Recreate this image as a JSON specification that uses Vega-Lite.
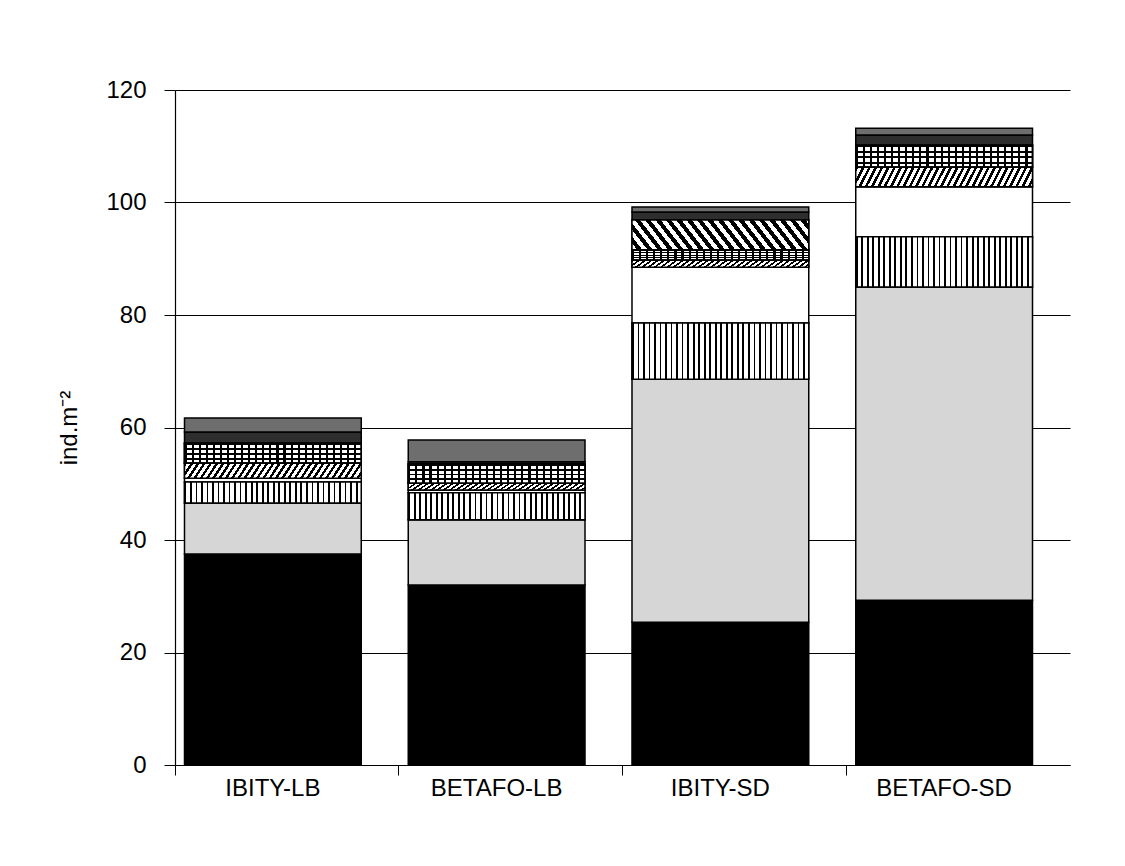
{
  "$schema": "https://vega.github.io/schema/vega-lite/v6.json",
  "width": 895,
  "height": 675,
  "autosize": "none",
  "padding": {"left": 175, "top": 90, "right": 55, "bottom": 101},
  "background": "white",
  "config": {"view": {"stroke": null}, "font": "Liberation Sans"},
  "data": {"values": [
    {"site": "IBITY-LB", "seg": 1, "v": 37.5},
    {"site": "IBITY-LB", "seg": 2, "v": 9.1},
    {"site": "IBITY-LB", "seg": 3, "v": 3.7},
    {"site": "IBITY-LB", "seg": 4, "v": 0.7},
    {"site": "IBITY-LB", "seg": 5, "v": 2.7},
    {"site": "IBITY-LB", "seg": 6, "v": 3.5},
    {"site": "IBITY-LB", "seg": 8, "v": 2.0},
    {"site": "IBITY-LB", "seg": 9, "v": 2.5},
    {"site": "BETAFO-LB", "seg": 1, "v": 32.0},
    {"site": "BETAFO-LB", "seg": 2, "v": 11.6},
    {"site": "BETAFO-LB", "seg": 3, "v": 4.8},
    {"site": "BETAFO-LB", "seg": 4, "v": 0.5},
    {"site": "BETAFO-LB", "seg": 5, "v": 1.2},
    {"site": "BETAFO-LB", "seg": 6, "v": 3.4},
    {"site": "BETAFO-LB", "seg": 8, "v": 0.4},
    {"site": "BETAFO-LB", "seg": 9, "v": 3.9},
    {"site": "IBITY-SD", "seg": 1, "v": 25.4},
    {"site": "IBITY-SD", "seg": 2, "v": 43.2},
    {"site": "IBITY-SD", "seg": 3, "v": 10.0},
    {"site": "IBITY-SD", "seg": 4, "v": 9.9},
    {"site": "IBITY-SD", "seg": 5, "v": 1.3},
    {"site": "IBITY-SD", "seg": 6, "v": 1.8},
    {"site": "IBITY-SD", "seg": 7, "v": 5.3},
    {"site": "IBITY-SD", "seg": 8, "v": 1.4},
    {"site": "IBITY-SD", "seg": 9, "v": 0.9},
    {"site": "BETAFO-SD", "seg": 1, "v": 29.3},
    {"site": "BETAFO-SD", "seg": 2, "v": 55.7},
    {"site": "BETAFO-SD", "seg": 3, "v": 8.9},
    {"site": "BETAFO-SD", "seg": 4, "v": 8.9},
    {"site": "BETAFO-SD", "seg": 5, "v": 3.5},
    {"site": "BETAFO-SD", "seg": 6, "v": 3.9},
    {"site": "BETAFO-SD", "seg": 8, "v": 1.8},
    {"site": "BETAFO-SD", "seg": 9, "v": 1.2}
  ]},
  "transform": [
    {"stack": "v", "groupby": ["site"], "sort": [{"field": "seg", "order": "ascending"}], "as": ["y0", "y1"]}
  ],
  "encoding": {
    "x": {
      "field": "site", "type": "nominal",
      "sort": ["IBITY-LB", "BETAFO-LB", "IBITY-SD", "BETAFO-SD"],
      "scale": {"paddingInner": 0, "paddingOuter": 0},
      "axis": {
        "title": null, "labelAngle": 0, "bandPosition": 0, "labelOffset": -14,
        "labelFontSize": 24, "labelColor": "black", "labelPadding": 1,
        "tickSize": 10, "tickColor": "black", "domainColor": "black", "domainWidth": 1.2,
        "labelFont": "Liberation Sans"
      }
    },
    "y": {
      "field": "y0", "type": "quantitative",
      "scale": {"domain": [0, 120], "nice": false},
      "axis": {
        "title": "ind.m⁻²", "values": [0, 20, 40, 60, 80, 100, 120],
        "grid": true, "gridColor": "black", "gridOpacity": 1, "gridWidth": 1,
        "domainColor": "black", "domainWidth": 1.2, "tickColor": "black", "tickSize": 11,
        "labelFontSize": 24, "labelColor": "black", "labelPadding": 18, "labelFont": "Liberation Sans",
        "titleFontSize": 24, "titleFontWeight": "normal", "titleColor": "black", "titlePadding": 24,
        "titleFont": "Liberation Sans"
      }
    },
    "y2": {"field": "y1"}
  },
  "layer": [
    {
      "mark": {"type": "bar", "width": {"band": 0.79}, "xOffset": -14, "stroke": "black", "strokeWidth": 1.5},
      "encoding": {
        "fill": {
          "field": "seg", "type": "nominal", "legend": null,
          "scale": {"domain": [1, 2, 3, 4, 5, 6, 7, 8, 9], "range": ["#000000", "#d6d6d6", "#ffffff", "#ffffff", "#ffffff", "#ffffff", "#ffffff", "#2e2e2e", "#6e6e6e"]}
        }
      }
    },
    {
      "transform": [{"filter": "datum.seg == 3"}],
      "mark": {"type": "bar", "width": {"band": 0.79}, "xOffset": -14, "stroke": "black", "strokeWidth": 1.5,
        "fill": {"gradient": "linear", "x1": 0, "y1": 0, "x2": 1, "y2": 0, "stops": [
          {"offset": 0, "color": "#000"}, {"offset": 0.01, "color": "#000"}, {"offset": 0.01, "color": "#fff"}, {"offset": 0.03125, "color": "#fff"},
          {"offset": 0.03125, "color": "#000"}, {"offset": 0.04125, "color": "#000"}, {"offset": 0.04125, "color": "#fff"}, {"offset": 0.0625, "color": "#fff"},
          {"offset": 0.0625, "color": "#000"}, {"offset": 0.0725, "color": "#000"}, {"offset": 0.0725, "color": "#fff"}, {"offset": 0.09375, "color": "#fff"},
          {"offset": 0.09375, "color": "#000"}, {"offset": 0.10375, "color": "#000"}, {"offset": 0.10375, "color": "#fff"}, {"offset": 0.125, "color": "#fff"},
          {"offset": 0.125, "color": "#000"}, {"offset": 0.135, "color": "#000"}, {"offset": 0.135, "color": "#fff"}, {"offset": 0.15625, "color": "#fff"},
          {"offset": 0.15625, "color": "#000"}, {"offset": 0.16625, "color": "#000"}, {"offset": 0.16625, "color": "#fff"}, {"offset": 0.1875, "color": "#fff"},
          {"offset": 0.1875, "color": "#000"}, {"offset": 0.1975, "color": "#000"}, {"offset": 0.1975, "color": "#fff"}, {"offset": 0.21875, "color": "#fff"},
          {"offset": 0.21875, "color": "#000"}, {"offset": 0.22875, "color": "#000"}, {"offset": 0.22875, "color": "#fff"}, {"offset": 0.25, "color": "#fff"},
          {"offset": 0.25, "color": "#000"}, {"offset": 0.26, "color": "#000"}, {"offset": 0.26, "color": "#fff"}, {"offset": 0.28125, "color": "#fff"},
          {"offset": 0.28125, "color": "#000"}, {"offset": 0.29125, "color": "#000"}, {"offset": 0.29125, "color": "#fff"}, {"offset": 0.3125, "color": "#fff"},
          {"offset": 0.3125, "color": "#000"}, {"offset": 0.3225, "color": "#000"}, {"offset": 0.3225, "color": "#fff"}, {"offset": 0.34375, "color": "#fff"},
          {"offset": 0.34375, "color": "#000"}, {"offset": 0.35375, "color": "#000"}, {"offset": 0.35375, "color": "#fff"}, {"offset": 0.375, "color": "#fff"},
          {"offset": 0.375, "color": "#000"}, {"offset": 0.385, "color": "#000"}, {"offset": 0.385, "color": "#fff"}, {"offset": 0.40625, "color": "#fff"},
          {"offset": 0.40625, "color": "#000"}, {"offset": 0.41625, "color": "#000"}, {"offset": 0.41625, "color": "#fff"}, {"offset": 0.4375, "color": "#fff"},
          {"offset": 0.4375, "color": "#000"}, {"offset": 0.4475, "color": "#000"}, {"offset": 0.4475, "color": "#fff"}, {"offset": 0.46875, "color": "#fff"},
          {"offset": 0.46875, "color": "#000"}, {"offset": 0.47875, "color": "#000"}, {"offset": 0.47875, "color": "#fff"}, {"offset": 0.5, "color": "#fff"},
          {"offset": 0.5, "color": "#000"}, {"offset": 0.51, "color": "#000"}, {"offset": 0.51, "color": "#fff"}, {"offset": 0.53125, "color": "#fff"},
          {"offset": 0.53125, "color": "#000"}, {"offset": 0.54125, "color": "#000"}, {"offset": 0.54125, "color": "#fff"}, {"offset": 0.5625, "color": "#fff"},
          {"offset": 0.5625, "color": "#000"}, {"offset": 0.5725, "color": "#000"}, {"offset": 0.5725, "color": "#fff"}, {"offset": 0.59375, "color": "#fff"},
          {"offset": 0.59375, "color": "#000"}, {"offset": 0.60375, "color": "#000"}, {"offset": 0.60375, "color": "#fff"}, {"offset": 0.625, "color": "#fff"},
          {"offset": 0.625, "color": "#000"}, {"offset": 0.635, "color": "#000"}, {"offset": 0.635, "color": "#fff"}, {"offset": 0.65625, "color": "#fff"},
          {"offset": 0.65625, "color": "#000"}, {"offset": 0.66625, "color": "#000"}, {"offset": 0.66625, "color": "#fff"}, {"offset": 0.6875, "color": "#fff"},
          {"offset": 0.6875, "color": "#000"}, {"offset": 0.6975, "color": "#000"}, {"offset": 0.6975, "color": "#fff"}, {"offset": 0.71875, "color": "#fff"},
          {"offset": 0.71875, "color": "#000"}, {"offset": 0.72875, "color": "#000"}, {"offset": 0.72875, "color": "#fff"}, {"offset": 0.75, "color": "#fff"},
          {"offset": 0.75, "color": "#000"}, {"offset": 0.76, "color": "#000"}, {"offset": 0.76, "color": "#fff"}, {"offset": 0.78125, "color": "#fff"},
          {"offset": 0.78125, "color": "#000"}, {"offset": 0.79125, "color": "#000"}, {"offset": 0.79125, "color": "#fff"}, {"offset": 0.8125, "color": "#fff"},
          {"offset": 0.8125, "color": "#000"}, {"offset": 0.8225, "color": "#000"}, {"offset": 0.8225, "color": "#fff"}, {"offset": 0.84375, "color": "#fff"},
          {"offset": 0.84375, "color": "#000"}, {"offset": 0.85375, "color": "#000"}, {"offset": 0.85375, "color": "#fff"}, {"offset": 0.875, "color": "#fff"},
          {"offset": 0.875, "color": "#000"}, {"offset": 0.885, "color": "#000"}, {"offset": 0.885, "color": "#fff"}, {"offset": 0.90625, "color": "#fff"},
          {"offset": 0.90625, "color": "#000"}, {"offset": 0.91625, "color": "#000"}, {"offset": 0.91625, "color": "#fff"}, {"offset": 0.9375, "color": "#fff"},
          {"offset": 0.9375, "color": "#000"}, {"offset": 0.9475, "color": "#000"}, {"offset": 0.9475, "color": "#fff"}, {"offset": 0.96875, "color": "#fff"},
          {"offset": 0.96875, "color": "#000"}, {"offset": 0.97875, "color": "#000"}, {"offset": 0.97875, "color": "#fff"}, {"offset": 1, "color": "#fff"}
        ]}
      }
    },
    {
      "transform": [{"filter": "datum.seg == 5"}],
      "mark": {"type": "bar", "width": {"band": 0.79}, "xOffset": -14, "stroke": "black", "strokeWidth": 1.5,
        "fill": {"gradient": "linear", "x1": 0, "y1": 0, "x2": 1.06, "y2": 0.06, "stops": [
          {"offset": 0, "color": "#000"}, {"offset": 0.015, "color": "#000"}, {"offset": 0.015, "color": "#fff"}, {"offset": 0.0333, "color": "#fff"},
          {"offset": 0.0333, "color": "#000"}, {"offset": 0.0483, "color": "#000"}, {"offset": 0.0483, "color": "#fff"}, {"offset": 0.0667, "color": "#fff"},
          {"offset": 0.0667, "color": "#000"}, {"offset": 0.0817, "color": "#000"}, {"offset": 0.0817, "color": "#fff"}, {"offset": 0.1, "color": "#fff"},
          {"offset": 0.1, "color": "#000"}, {"offset": 0.115, "color": "#000"}, {"offset": 0.115, "color": "#fff"}, {"offset": 0.1333, "color": "#fff"},
          {"offset": 0.1333, "color": "#000"}, {"offset": 0.1483, "color": "#000"}, {"offset": 0.1483, "color": "#fff"}, {"offset": 0.1667, "color": "#fff"},
          {"offset": 0.1667, "color": "#000"}, {"offset": 0.1817, "color": "#000"}, {"offset": 0.1817, "color": "#fff"}, {"offset": 0.2, "color": "#fff"},
          {"offset": 0.2, "color": "#000"}, {"offset": 0.215, "color": "#000"}, {"offset": 0.215, "color": "#fff"}, {"offset": 0.2333, "color": "#fff"},
          {"offset": 0.2333, "color": "#000"}, {"offset": 0.2483, "color": "#000"}, {"offset": 0.2483, "color": "#fff"}, {"offset": 0.2667, "color": "#fff"},
          {"offset": 0.2667, "color": "#000"}, {"offset": 0.2817, "color": "#000"}, {"offset": 0.2817, "color": "#fff"}, {"offset": 0.3, "color": "#fff"},
          {"offset": 0.3, "color": "#000"}, {"offset": 0.315, "color": "#000"}, {"offset": 0.315, "color": "#fff"}, {"offset": 0.3333, "color": "#fff"},
          {"offset": 0.3333, "color": "#000"}, {"offset": 0.3483, "color": "#000"}, {"offset": 0.3483, "color": "#fff"}, {"offset": 0.3667, "color": "#fff"},
          {"offset": 0.3667, "color": "#000"}, {"offset": 0.3817, "color": "#000"}, {"offset": 0.3817, "color": "#fff"}, {"offset": 0.4, "color": "#fff"},
          {"offset": 0.4, "color": "#000"}, {"offset": 0.415, "color": "#000"}, {"offset": 0.415, "color": "#fff"}, {"offset": 0.4333, "color": "#fff"},
          {"offset": 0.4333, "color": "#000"}, {"offset": 0.4483, "color": "#000"}, {"offset": 0.4483, "color": "#fff"}, {"offset": 0.4667, "color": "#fff"},
          {"offset": 0.4667, "color": "#000"}, {"offset": 0.4817, "color": "#000"}, {"offset": 0.4817, "color": "#fff"}, {"offset": 0.5, "color": "#fff"},
          {"offset": 0.5, "color": "#000"}, {"offset": 0.515, "color": "#000"}, {"offset": 0.515, "color": "#fff"}, {"offset": 0.5333, "color": "#fff"},
          {"offset": 0.5333, "color": "#000"}, {"offset": 0.5483, "color": "#000"}, {"offset": 0.5483, "color": "#fff"}, {"offset": 0.5667, "color": "#fff"},
          {"offset": 0.5667, "color": "#000"}, {"offset": 0.5817, "color": "#000"}, {"offset": 0.5817, "color": "#fff"}, {"offset": 0.6, "color": "#fff"},
          {"offset": 0.6, "color": "#000"}, {"offset": 0.615, "color": "#000"}, {"offset": 0.615, "color": "#fff"}, {"offset": 0.6333, "color": "#fff"},
          {"offset": 0.6333, "color": "#000"}, {"offset": 0.6483, "color": "#000"}, {"offset": 0.6483, "color": "#fff"}, {"offset": 0.6667, "color": "#fff"},
          {"offset": 0.6667, "color": "#000"}, {"offset": 0.6817, "color": "#000"}, {"offset": 0.6817, "color": "#fff"}, {"offset": 0.7, "color": "#fff"},
          {"offset": 0.7, "color": "#000"}, {"offset": 0.715, "color": "#000"}, {"offset": 0.715, "color": "#fff"}, {"offset": 0.7333, "color": "#fff"},
          {"offset": 0.7333, "color": "#000"}, {"offset": 0.7483, "color": "#000"}, {"offset": 0.7483, "color": "#fff"}, {"offset": 0.7667, "color": "#fff"},
          {"offset": 0.7667, "color": "#000"}, {"offset": 0.7817, "color": "#000"}, {"offset": 0.7817, "color": "#fff"}, {"offset": 0.8, "color": "#fff"},
          {"offset": 0.8, "color": "#000"}, {"offset": 0.815, "color": "#000"}, {"offset": 0.815, "color": "#fff"}, {"offset": 0.8333, "color": "#fff"},
          {"offset": 0.8333, "color": "#000"}, {"offset": 0.8483, "color": "#000"}, {"offset": 0.8483, "color": "#fff"}, {"offset": 0.8667, "color": "#fff"},
          {"offset": 0.8667, "color": "#000"}, {"offset": 0.8817, "color": "#000"}, {"offset": 0.8817, "color": "#fff"}, {"offset": 0.9, "color": "#fff"},
          {"offset": 0.9, "color": "#000"}, {"offset": 0.915, "color": "#000"}, {"offset": 0.915, "color": "#fff"}, {"offset": 0.9333, "color": "#fff"},
          {"offset": 0.9333, "color": "#000"}, {"offset": 0.9483, "color": "#000"}, {"offset": 0.9483, "color": "#fff"}, {"offset": 0.9667, "color": "#fff"},
          {"offset": 0.9667, "color": "#000"}, {"offset": 0.9817, "color": "#000"}, {"offset": 0.9817, "color": "#fff"}, {"offset": 1, "color": "#fff"}
        ]}
      }
    },
    {
      "transform": [{"filter": "datum.seg == 6"}],
      "mark": {"type": "bar", "width": {"band": 0.79}, "xOffset": -14, "stroke": "black", "strokeWidth": 1.5,
        "fill": {"gradient": "linear", "x1": 0, "y1": 0, "x2": 0, "y2": 1, "stops": [
          {"offset": 0, "color": "#000"}, {"offset": 0.09, "color": "#000"}, {"offset": 0.09, "color": "#fff"}, {"offset": 0.25, "color": "#fff"},
          {"offset": 0.25, "color": "#000"}, {"offset": 0.34, "color": "#000"}, {"offset": 0.34, "color": "#fff"}, {"offset": 0.5, "color": "#fff"},
          {"offset": 0.5, "color": "#000"}, {"offset": 0.59, "color": "#000"}, {"offset": 0.59, "color": "#fff"}, {"offset": 0.75, "color": "#fff"},
          {"offset": 0.75, "color": "#000"}, {"offset": 0.84, "color": "#000"}, {"offset": 0.84, "color": "#fff"}, {"offset": 1, "color": "#fff"}
        ]}
      }
    },
    {
      "transform": [{"filter": "datum.seg == 6"}],
      "mark": {"type": "bar", "width": {"band": 0.79}, "xOffset": -14, "stroke": "black", "strokeWidth": 1.5,
        "fill": {"gradient": "linear", "x1": 0, "y1": 0, "x2": 1, "y2": 0, "stops": [
          {"offset": 0, "color": "#000"}, {"offset": 0.012, "color": "#000"}, {"offset": 0.012, "color": "rgba(255,255,255,0)"}, {"offset": 0.04, "color": "rgba(255,255,255,0)"},
          {"offset": 0.04, "color": "#000"}, {"offset": 0.052, "color": "#000"}, {"offset": 0.052, "color": "rgba(255,255,255,0)"}, {"offset": 0.08, "color": "rgba(255,255,255,0)"},
          {"offset": 0.08, "color": "#000"}, {"offset": 0.092, "color": "#000"}, {"offset": 0.092, "color": "rgba(255,255,255,0)"}, {"offset": 0.12, "color": "rgba(255,255,255,0)"},
          {"offset": 0.12, "color": "#000"}, {"offset": 0.132, "color": "#000"}, {"offset": 0.132, "color": "rgba(255,255,255,0)"}, {"offset": 0.16, "color": "rgba(255,255,255,0)"},
          {"offset": 0.16, "color": "#000"}, {"offset": 0.172, "color": "#000"}, {"offset": 0.172, "color": "rgba(255,255,255,0)"}, {"offset": 0.2, "color": "rgba(255,255,255,0)"},
          {"offset": 0.2, "color": "#000"}, {"offset": 0.212, "color": "#000"}, {"offset": 0.212, "color": "rgba(255,255,255,0)"}, {"offset": 0.24, "color": "rgba(255,255,255,0)"},
          {"offset": 0.24, "color": "#000"}, {"offset": 0.252, "color": "#000"}, {"offset": 0.252, "color": "rgba(255,255,255,0)"}, {"offset": 0.28, "color": "rgba(255,255,255,0)"},
          {"offset": 0.28, "color": "#000"}, {"offset": 0.292, "color": "#000"}, {"offset": 0.292, "color": "rgba(255,255,255,0)"}, {"offset": 0.32, "color": "rgba(255,255,255,0)"},
          {"offset": 0.32, "color": "#000"}, {"offset": 0.332, "color": "#000"}, {"offset": 0.332, "color": "rgba(255,255,255,0)"}, {"offset": 0.36, "color": "rgba(255,255,255,0)"},
          {"offset": 0.36, "color": "#000"}, {"offset": 0.372, "color": "#000"}, {"offset": 0.372, "color": "rgba(255,255,255,0)"}, {"offset": 0.4, "color": "rgba(255,255,255,0)"},
          {"offset": 0.4, "color": "#000"}, {"offset": 0.412, "color": "#000"}, {"offset": 0.412, "color": "rgba(255,255,255,0)"}, {"offset": 0.44, "color": "rgba(255,255,255,0)"},
          {"offset": 0.44, "color": "#000"}, {"offset": 0.452, "color": "#000"}, {"offset": 0.452, "color": "rgba(255,255,255,0)"}, {"offset": 0.48, "color": "rgba(255,255,255,0)"},
          {"offset": 0.48, "color": "#000"}, {"offset": 0.492, "color": "#000"}, {"offset": 0.492, "color": "rgba(255,255,255,0)"}, {"offset": 0.52, "color": "rgba(255,255,255,0)"},
          {"offset": 0.52, "color": "#000"}, {"offset": 0.532, "color": "#000"}, {"offset": 0.532, "color": "rgba(255,255,255,0)"}, {"offset": 0.56, "color": "rgba(255,255,255,0)"},
          {"offset": 0.56, "color": "#000"}, {"offset": 0.572, "color": "#000"}, {"offset": 0.572, "color": "rgba(255,255,255,0)"}, {"offset": 0.6, "color": "rgba(255,255,255,0)"},
          {"offset": 0.6, "color": "#000"}, {"offset": 0.612, "color": "#000"}, {"offset": 0.612, "color": "rgba(255,255,255,0)"}, {"offset": 0.64, "color": "rgba(255,255,255,0)"},
          {"offset": 0.64, "color": "#000"}, {"offset": 0.652, "color": "#000"}, {"offset": 0.652, "color": "rgba(255,255,255,0)"}, {"offset": 0.68, "color": "rgba(255,255,255,0)"},
          {"offset": 0.68, "color": "#000"}, {"offset": 0.692, "color": "#000"}, {"offset": 0.692, "color": "rgba(255,255,255,0)"}, {"offset": 0.72, "color": "rgba(255,255,255,0)"},
          {"offset": 0.72, "color": "#000"}, {"offset": 0.732, "color": "#000"}, {"offset": 0.732, "color": "rgba(255,255,255,0)"}, {"offset": 0.76, "color": "rgba(255,255,255,0)"},
          {"offset": 0.76, "color": "#000"}, {"offset": 0.772, "color": "#000"}, {"offset": 0.772, "color": "rgba(255,255,255,0)"}, {"offset": 0.8, "color": "rgba(255,255,255,0)"},
          {"offset": 0.8, "color": "#000"}, {"offset": 0.812, "color": "#000"}, {"offset": 0.812, "color": "rgba(255,255,255,0)"}, {"offset": 0.84, "color": "rgba(255,255,255,0)"},
          {"offset": 0.84, "color": "#000"}, {"offset": 0.852, "color": "#000"}, {"offset": 0.852, "color": "rgba(255,255,255,0)"}, {"offset": 0.88, "color": "rgba(255,255,255,0)"},
          {"offset": 0.88, "color": "#000"}, {"offset": 0.892, "color": "#000"}, {"offset": 0.892, "color": "rgba(255,255,255,0)"}, {"offset": 0.92, "color": "rgba(255,255,255,0)"},
          {"offset": 0.92, "color": "#000"}, {"offset": 0.932, "color": "#000"}, {"offset": 0.932, "color": "rgba(255,255,255,0)"}, {"offset": 0.96, "color": "rgba(255,255,255,0)"},
          {"offset": 0.96, "color": "#000"}, {"offset": 0.972, "color": "#000"}, {"offset": 0.972, "color": "rgba(255,255,255,0)"}, {"offset": 1, "color": "rgba(255,255,255,0)"}
        ]}
      }
    },
    {
      "transform": [{"filter": "datum.seg == 7"}],
      "mark": {"type": "bar", "width": {"band": 0.79}, "xOffset": -14, "stroke": "black", "strokeWidth": 1.5,
        "fill": {"gradient": "linear", "x1": 0, "y1": 1, "x2": 1.15, "y2": 0.85, "stops": [
          {"offset": 0, "color": "#fff"}, {"offset": 0.025, "color": "#fff"}, {"offset": 0.025, "color": "#000"}, {"offset": 0.05, "color": "#000"},
          {"offset": 0.05, "color": "#fff"}, {"offset": 0.075, "color": "#fff"}, {"offset": 0.075, "color": "#000"}, {"offset": 0.1, "color": "#000"},
          {"offset": 0.1, "color": "#fff"}, {"offset": 0.125, "color": "#fff"}, {"offset": 0.125, "color": "#000"}, {"offset": 0.15, "color": "#000"},
          {"offset": 0.15, "color": "#fff"}, {"offset": 0.175, "color": "#fff"}, {"offset": 0.175, "color": "#000"}, {"offset": 0.2, "color": "#000"},
          {"offset": 0.2, "color": "#fff"}, {"offset": 0.225, "color": "#fff"}, {"offset": 0.225, "color": "#000"}, {"offset": 0.25, "color": "#000"},
          {"offset": 0.25, "color": "#fff"}, {"offset": 0.275, "color": "#fff"}, {"offset": 0.275, "color": "#000"}, {"offset": 0.3, "color": "#000"},
          {"offset": 0.3, "color": "#fff"}, {"offset": 0.325, "color": "#fff"}, {"offset": 0.325, "color": "#000"}, {"offset": 0.35, "color": "#000"},
          {"offset": 0.35, "color": "#fff"}, {"offset": 0.375, "color": "#fff"}, {"offset": 0.375, "color": "#000"}, {"offset": 0.4, "color": "#000"},
          {"offset": 0.4, "color": "#fff"}, {"offset": 0.425, "color": "#fff"}, {"offset": 0.425, "color": "#000"}, {"offset": 0.45, "color": "#000"},
          {"offset": 0.45, "color": "#fff"}, {"offset": 0.475, "color": "#fff"}, {"offset": 0.475, "color": "#000"}, {"offset": 0.5, "color": "#000"},
          {"offset": 0.5, "color": "#fff"}, {"offset": 0.525, "color": "#fff"}, {"offset": 0.525, "color": "#000"}, {"offset": 0.55, "color": "#000"},
          {"offset": 0.55, "color": "#fff"}, {"offset": 0.575, "color": "#fff"}, {"offset": 0.575, "color": "#000"}, {"offset": 0.6, "color": "#000"},
          {"offset": 0.6, "color": "#fff"}, {"offset": 0.625, "color": "#fff"}, {"offset": 0.625, "color": "#000"}, {"offset": 0.65, "color": "#000"},
          {"offset": 0.65, "color": "#fff"}, {"offset": 0.675, "color": "#fff"}, {"offset": 0.675, "color": "#000"}, {"offset": 0.7, "color": "#000"},
          {"offset": 0.7, "color": "#fff"}, {"offset": 0.725, "color": "#fff"}, {"offset": 0.725, "color": "#000"}, {"offset": 0.75, "color": "#000"},
          {"offset": 0.75, "color": "#fff"}, {"offset": 0.775, "color": "#fff"}, {"offset": 0.775, "color": "#000"}, {"offset": 0.8, "color": "#000"},
          {"offset": 0.8, "color": "#fff"}, {"offset": 0.825, "color": "#fff"}, {"offset": 0.825, "color": "#000"}, {"offset": 0.85, "color": "#000"},
          {"offset": 0.85, "color": "#fff"}, {"offset": 0.875, "color": "#fff"}, {"offset": 0.875, "color": "#000"}, {"offset": 0.9, "color": "#000"},
          {"offset": 0.9, "color": "#fff"}, {"offset": 0.925, "color": "#fff"}, {"offset": 0.925, "color": "#000"}, {"offset": 0.95, "color": "#000"},
          {"offset": 0.95, "color": "#fff"}, {"offset": 0.975, "color": "#fff"}, {"offset": 0.975, "color": "#000"}, {"offset": 1, "color": "#000"}
        ]}
      }
    }
  ]
}
